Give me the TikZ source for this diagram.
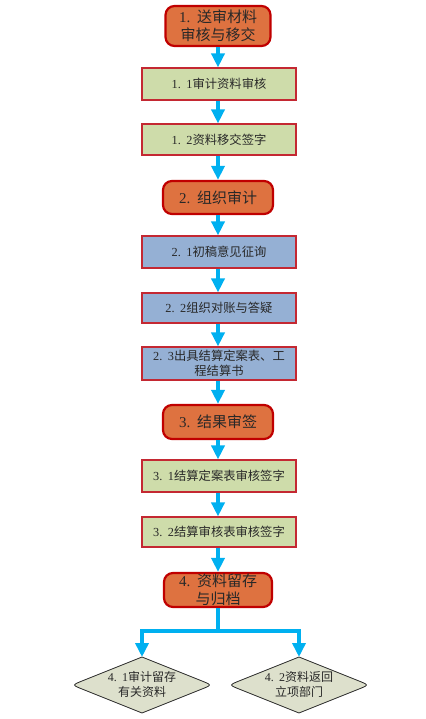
\documentclass[tikz,border=0pt]{standalone}
\usepackage{fontspec}
\newfontfamily\cjk{Noto Sans CJK SC}
\newfontfamily\latn{Liberation Serif}
\newcommand\numlab[2]{{\latn #1.\hspace{0.45em}#2}}
\usetikzlibrary{arrows.meta}
\definecolor{orangefill}{RGB}{222,114,64}
\definecolor{darkred}{RGB}{192,0,0}
\definecolor{boxred}{RGB}{196,40,50}
\definecolor{greenfill}{RGB}{206,220,170}
\definecolor{bluefill}{RGB}{149,176,212}
\definecolor{diamfill}{RGB}{221,224,204}
\definecolor{arrcyan}{RGB}{0,176,240}
\definecolor{txt}{RGB}{40,40,40}
\tikzset{
  x=1pt, y=-1pt,
  stage/.style={draw=darkred, line width=2.2pt, fill=orangefill, rounded corners=9pt,
    minimum width=108pt, minimum height=34pt, inner sep=1pt, align=center,
    text=txt, font=\cjk\fontsize{15}{18}\selectfont},
  greenbox/.style={draw=boxred, line width=1.1pt, fill=greenfill,
    minimum width=154pt, minimum height=32pt, inner sep=1pt, align=center,
    text=txt, font=\cjk\fontsize{12.3}{15}\selectfont},
  bluebox/.style={greenbox, fill=bluefill},
  diamtext/.style={inner sep=0pt, align=center, text=txt, font=\cjk\fontsize{12}{15}\selectfont},
  diam/.style={draw=black!85, line width=0.8pt, fill=diamfill},
  arr/.style={draw=arrcyan, line width=3.5pt, -{Triangle[width=13pt,length=14pt]}},
  flow/.style={draw=arrcyan, line width=3.5pt}
}
\begin{document}
\begin{tikzpicture}
\useasboundingbox (0,0) rectangle (425,719);
\node[stage, minimum width=105pt, minimum height=40pt] (n1) at (218,26) {\numlab{1}{}送审材料\\审核与移交};
\node[greenbox] (b11) at (219,84) {\numlab{1}{1}审计资料审核};
\node[greenbox, minimum height=31pt] (b12) at (219,139.5) {\numlab{1}{2}资料移交签字};
\node[stage, minimum width=110pt, minimum height=33pt] (n2) at (218,197.5) {\numlab{2}{}组织审计};
\node[bluebox] (b21) at (219,252) {\numlab{2}{1}初稿意见征询};
\node[bluebox, minimum height=30pt] (b22) at (219,308) {\numlab{2}{2}组织对账与答疑};
\node[bluebox, minimum height=33pt] (b23) at (219,363.5) {\numlab{2}{3}出具结算定案表、工\\程结算书};
\node[stage, minimum width=110pt] (n3) at (218,422) {\numlab{3}{}结果审签};
\node[greenbox] (b31) at (219,476) {\numlab{3}{1}结算定案表审核签字};
\node[greenbox, minimum height=30pt] (b32) at (219,532) {\numlab{3}{2}结算审核表审核签字};
\node[stage] (n4) at (218,590) {\numlab{4}{}资料留存\\与归档};

% decision shapes
\path[diam] (142,657) -- (82.5,680.8) .. controls (72,685) .. (82.5,689.2) -- (142,713)
  -- (201.5,689.2) .. controls (212,685) .. (201.5,680.8) -- cycle;
\path[diam] (299,657) -- (239.5,680.8) .. controls (229,685) .. (239.5,689.2) -- (299,713)
  -- (358.5,689.2) .. controls (369,685) .. (358.5,680.8) -- cycle;
\node[diamtext] (d41) at (142,684) {\numlab{4}{1}审计留存\\有关资料};
\node[diamtext] (d42) at (299,684) {\numlab{4}{2}资料返回\\立项部门};
\coordinate (d41t) at (142,657);
\coordinate (d42t) at (299,657);
\coordinate (br) at (218,631);

\draw[arr] (n1.south) -- (n1.south |- b11.north);
\draw[arr] (b11.south -| n1.south) -- (n1.south |- b12.north);
\draw[arr] (b12.south -| n1.south) -- (n2.north);
\draw[arr] (n2.south) -- (n2.south |- b21.north);
\draw[arr] (b21.south -| n2.south) -- (n2.south |- b22.north);
\draw[arr] (b22.south -| n2.south) -- (n2.south |- b23.north);
\draw[arr] (b23.south -| n2.south) -- (n3.north);
\draw[arr] (n3.south) -- (n3.south |- b31.north);
\draw[arr] (b31.south -| n3.south) -- (n3.south |- b32.north);
\draw[arr] (b32.south -| n3.south) -- (n4.north);
\draw[flow] (n4.south) -- (br);
\draw[arr] (br) -| (d41t);
\draw[arr] (br) -| (d42t);
\end{tikzpicture}
\end{document}
